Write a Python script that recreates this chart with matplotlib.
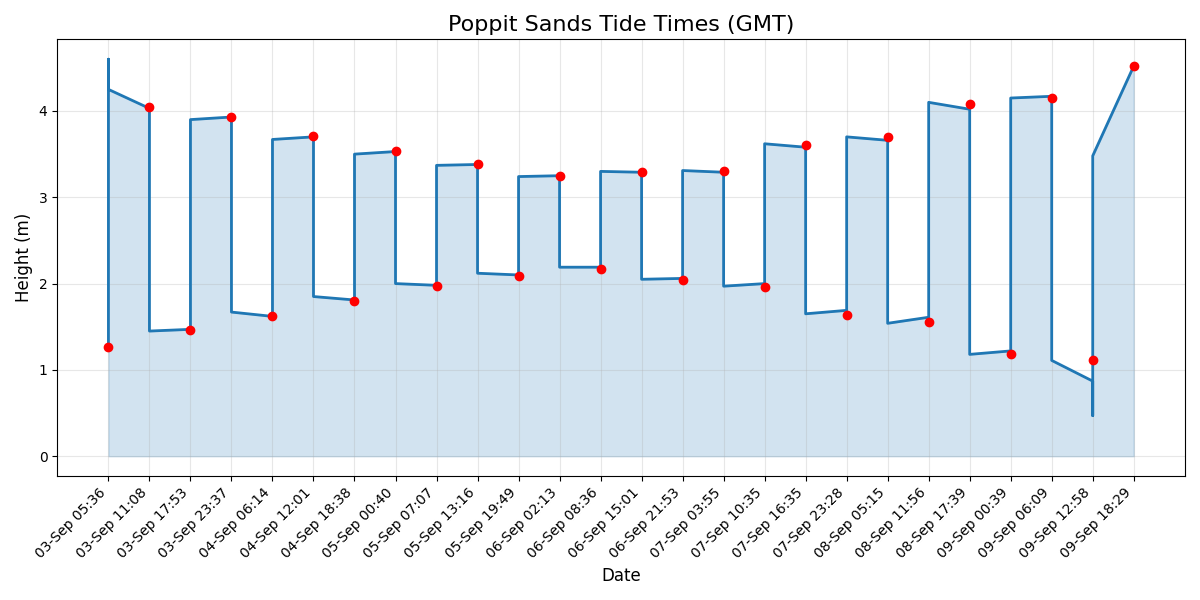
import matplotlib
matplotlib.use("Agg")
import matplotlib.pyplot as plt
import numpy as np

# tide times (categorical x axis)
times = ["03-Sep 05:36", "03-Sep 11:08", "03-Sep 17:53", "03-Sep 23:37",
         "04-Sep 06:14", "04-Sep 12:01", "04-Sep 18:38", "05-Sep 00:40",
         "05-Sep 07:07", "05-Sep 13:16", "05-Sep 19:49", "06-Sep 02:13",
         "06-Sep 08:36", "06-Sep 15:01", "06-Sep 21:53", "07-Sep 03:55",
         "07-Sep 10:35", "07-Sep 16:35", "07-Sep 23:28", "08-Sep 05:15",
         "08-Sep 11:56", "08-Sep 17:39", "09-Sep 00:39", "09-Sep 06:09",
         "09-Sep 12:58", "09-Sep 18:29"]

# tide heights at each time (red points)
heights = [1.26, 4.05, 1.46, 3.93, 1.62, 3.71, 1.80, 3.54, 1.97, 3.38,
           2.09, 3.25, 2.17, 3.29, 2.04, 3.30, 1.96, 3.60, 1.64, 3.70,
           1.55, 4.08, 1.18, 4.15, 1.11, 4.52]

# blue curve: heights it passes through at each time position, in order
curve_levels = [
    [1.26, 4.60, 4.25], [4.03, 1.45], [1.47, 3.90], [3.93, 1.67],
    [1.62, 3.67], [3.70, 1.85], [1.81, 3.50], [3.53, 2.00],
    [1.98, 3.37], [3.38, 2.12], [2.10, 3.24], [3.25, 2.19],
    [2.19, 3.30], [3.29, 2.05], [2.06, 3.31], [3.29, 1.97],
    [2.00, 3.62], [3.58, 1.65], [1.69, 3.70], [3.66, 1.54],
    [1.61, 4.10], [4.02, 1.18], [1.22, 4.15], [4.17, 1.11],
    [0.87, 0.47, 3.48], [4.52],
]

x = np.arange(len(times))
curve_x = np.concatenate([[i] * len(lv) for i, lv in enumerate(curve_levels)])
curve_y = np.concatenate(curve_levels)

fig, ax = plt.subplots(figsize=(12, 6), dpi=100)
ax.plot(curve_x, curve_y, color="tab:blue", linewidth=2)
ax.fill_between(curve_x, curve_y, 0, color="tab:blue", alpha=0.2)
ax.plot(x, heights, "o", color="red", markersize=6, zorder=3)

ax.set_xticks(x)
ax.set_xticklabels(times, rotation=45, ha="right")
ax.set_title("Poppit Sands Tide Times (GMT)", fontsize=16)
ax.set_xlabel("Date", fontsize=12)
ax.set_ylabel("Height (m)", fontsize=12)
ax.grid(True, alpha=0.3)

plt.tight_layout()
plt.savefig("out.png")
